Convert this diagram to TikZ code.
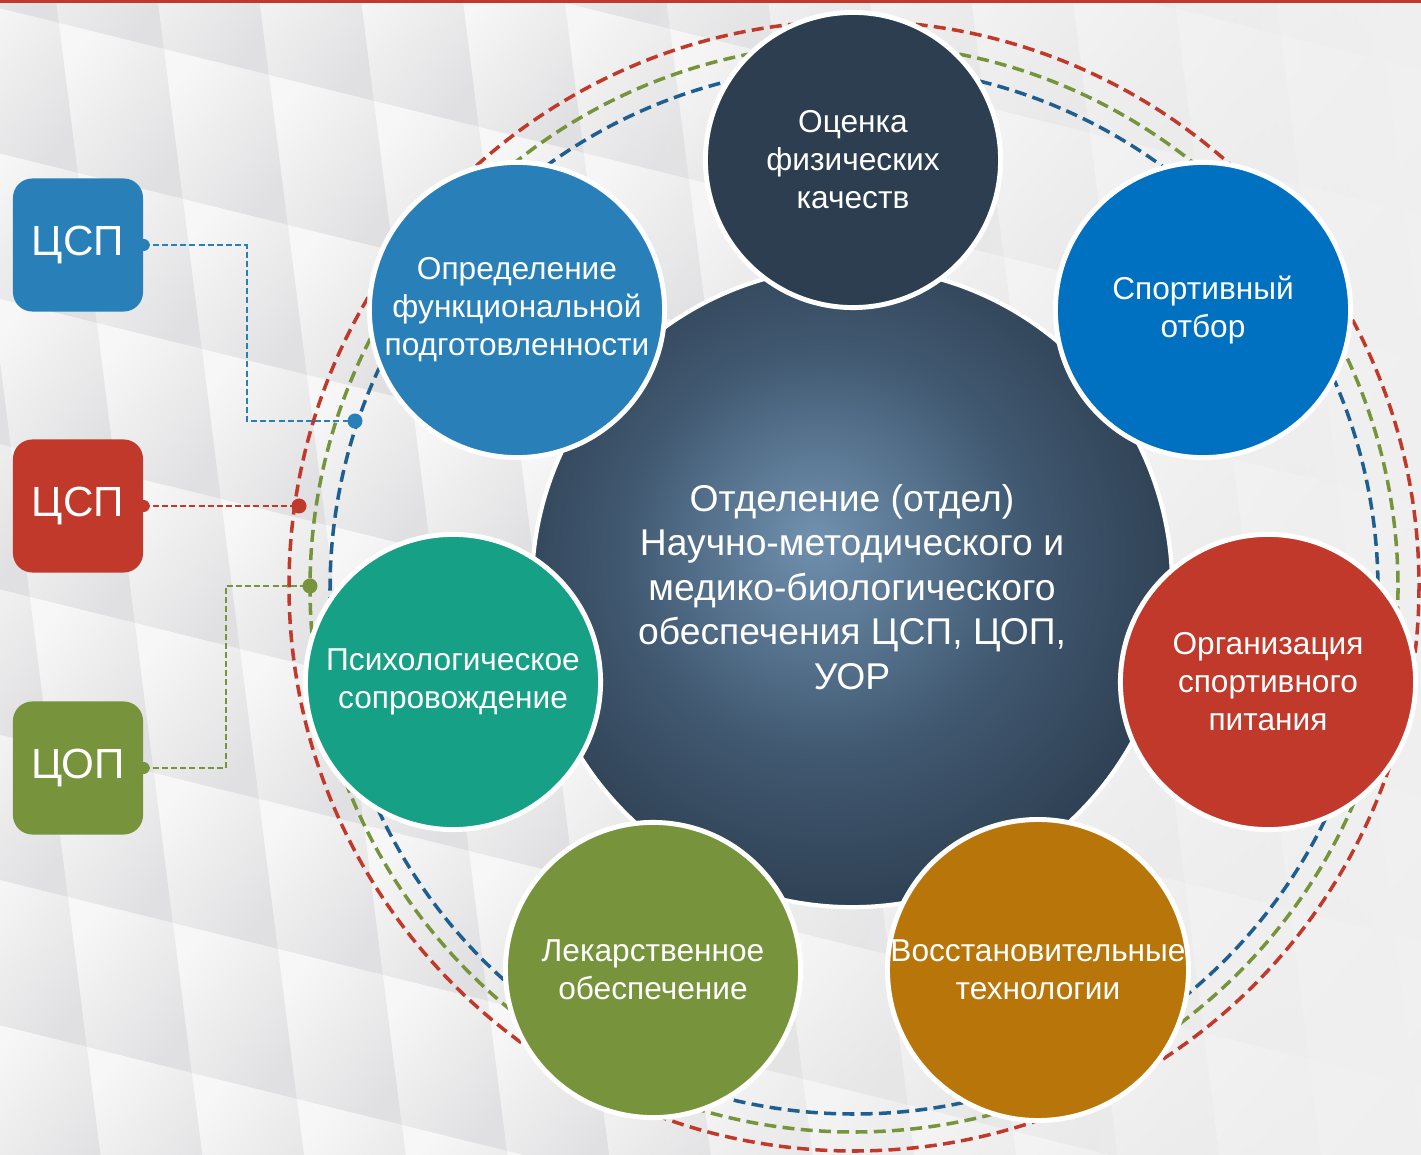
\documentclass[tikz,border=0pt]{standalone}
\usepackage{fontspec}
\setmainfont{Liberation Sans}
\usetikzlibrary{fadings}
\definecolor{cspblue}{HTML}{2980B9}
\definecolor{selblue}{HTML}{0070C0}
\definecolor{slate}{HTML}{2C3E50}
\definecolor{brick}{HTML}{C0392B}
\definecolor{amber}{HTML}{B8760A}
\definecolor{olive}{HTML}{77933C}
\definecolor{jade}{HTML}{16A085}
\definecolor{navy}{HTML}{1F5F8F}
\definecolor{hubin}{HTML}{7091AF}
\definecolor{hubmid}{HTML}{405870}
\definecolor{hubout}{HTML}{1F2A38}
\definecolor{tilelight}{HTML}{F8F7F7}
\definecolor{tiledark}{HTML}{E0E0E2}
\definecolor{paper}{HTML}{F1F0F0}
\pgfdeclareradialshading{hubglow}{\pgfpoint{-3bp}{4bp}}{color(0bp)=(hubin); color(16bp)=(hubmid); color(38bp)=(hubout); color(50bp)=(hubout)}
\tikzset{
  ball/.style={circle,draw=white,line width=1.4pt,minimum size=2.95cm,inner sep=0pt,
    text=white,align=center,font=\fontsize{9}{10.8}\selectfont},
  badge/.style={rounded corners=5.5pt,minimum width=1.3cm,minimum height=1.33cm,
    text=white,font=\fontsize{12}{14}\selectfont},
  orbit/.style={line width=1pt,dash pattern=on 3.4pt off 1.8pt},
  link/.style={line width=0.5pt,dash pattern=on 1.7pt off 0.9pt}
}
\begin{document}
\begin{tikzpicture}[x=0.01cm,y=-0.01cm]
\useasboundingbox (0,0) rectangle (1421,1155);
% background tiles
\fill[paper] (0,0) rectangle (1421,1155);
\foreach \i in {-3,...,14}
  \foreach \j in {-3,...,8}
    \shade[top color=tilelight,bottom color=tiledark,shading angle=50]
      ({-46+\i*105+\j*19},{-3+\i*26+\j*150}) -- ++(105,26) -- ++(19,150) -- ++(-105,-26) -- cycle;
\fill[paper,path fading=west] (560,0) rectangle (1421,1155);
\fill[brick] (0,0) rectangle (1421,3);
% dashed rings
\draw[orbit,brick] (854,586) circle (565);
\draw[orbit,olive] (854,588) circle (544);
\draw[orbit,navy] (854,590) circle (524);
% hub
\node[circle,draw=white,line width=1.2pt,minimum size=6.4cm,shading=hubglow,text=white,
  align=center,font=\fontsize{10.6}{12.7}\selectfont] (hub) at (852,587)
  {Отделение (отдел)\\Научно-методического и\\медико-биологического\\обеспечения ЦСП, ЦОП,\\УОР};
% satellites
\node[ball,fill=slate] (fiz) at (853,160) {Оценка\\физических\\качеств};
\node[ball,fill=selblue] (otbor) at (1203,310) {Спортивный\\отбор};
\node[ball,fill=brick] (pit) at (1268,682) {Организация\\спортивного\\питания};
\node[ball,fill=amber] (voss) at (1038,970) {Восстановительные\\технологии};
\node[ball,fill=olive] (lek) at (653,970) {Лекарственное\\обеспечение};
\node[ball,fill=jade] (psih) at (453,682) {Психологическое\\сопровождение};
\node[ball,fill=cspblue] (func) at (517,310) {Определение\\функциональной\\подготовленности};
% left boxes
\node[badge,fill=cspblue] (csp1) at (78,245) {ЦСП};
\node[badge,fill=brick] (csp2) at (78,506) {ЦСП};
\node[badge,fill=olive] (cop) at (78,768) {ЦОП};
\coordinate (d1) at (355,421);
\coordinate (d2) at (299,506);
\coordinate (d3) at (310,586);
\draw[link,cspblue] (csp1.east) -- ++(103,0) |- (d1);
\draw[link,brick] (csp2.east) -- (d2);
\draw[link,olive] (cop.east) -- ++(82,0) |- (d3);
\fill[cspblue] (csp1.east) circle (6) (d1) circle (7.5);
\fill[brick] (csp2.east) circle (6) (d2) circle (7.5);
\fill[olive] (cop.east) circle (6) (d3) circle (7.5);
\end{tikzpicture}
\end{document}
